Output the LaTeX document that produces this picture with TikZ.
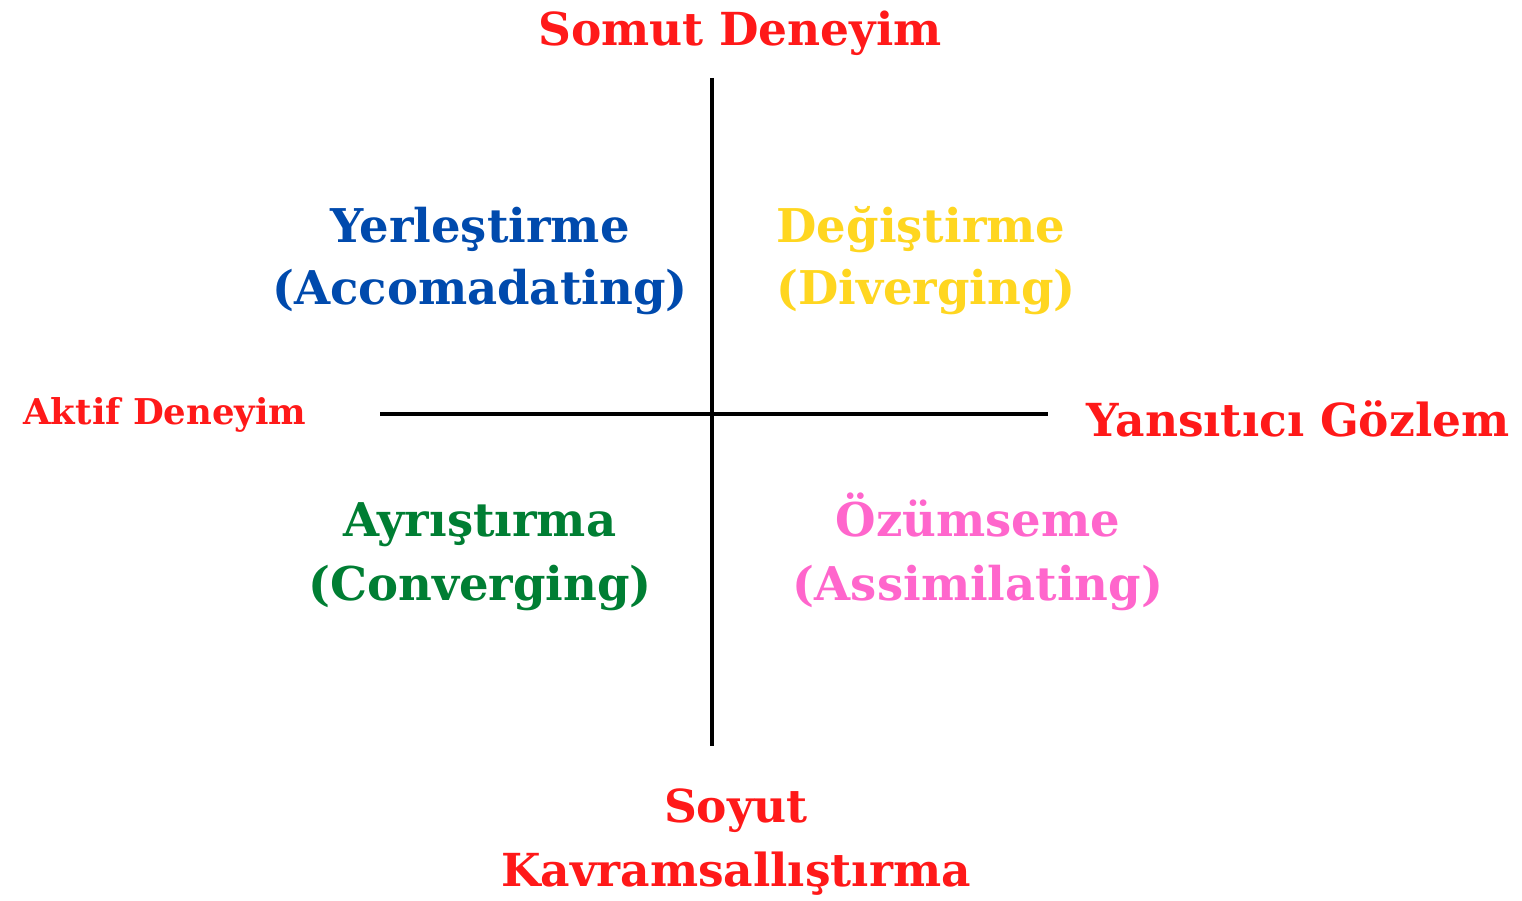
\documentclass[tikz,border=0pt]{standalone}
\usepackage{fontspec}
\setmainfont{DejaVu Serif}[BoldFont={DejaVu Serif Bold}]
\definecolor{labred}{RGB}{255,25,25}
\definecolor{labblue}{RGB}{0,74,173}
\definecolor{labyellow}{RGB}{255,214,32}
\definecolor{labgreen}{RGB}{0,126,51}
\definecolor{labpink}{RGB}{255,102,204}
\tikzset{
  big/.style={anchor=base, inner sep=0pt, font=\bfseries\fontsize{45.5}{54}\selectfont},
  quad/.style={anchor=base, inner sep=0pt, font=\bfseries\fontsize{46.5}{56}\selectfont},
  small/.style={anchor=base, inner sep=0pt, font=\bfseries\fontsize{35.5}{42}\selectfont},
  axis/.style={line width=3.3pt, black}
}
\begin{document}
\begin{tikzpicture}[x=1pt,y=1pt]
\useasboundingbox (0,0) rectangle (1522,901);
\coordinate (top) at (712,823);
\coordinate (bot) at (712,155);
\coordinate (lft) at (380,487);
\coordinate (rgt) at (1048,487);
\draw[axis] (top) -- (bot);
\draw[axis] (lft) -- (rgt);
\node[big, text=labred] (somut) at (740,855) {Somut Deneyim};
\node[small, text=labred] (aktif) at (165,476) {Aktif Deneyim};
\node[big, text=labred] (yans) at (1298,464) {Yansıtıcı Gözlem};
\node[big, text=labred] (soyut1) at (736,78) {Soyut};
\node[big, text=labred] (soyut2) at (736,14) {Kavramsallıştırma};
\node[quad, text=labblue] (acc1) at (480,658) {Yerleştirme};
\node[quad, text=labblue] (acc2) at (480,596) {(Accomadating)};
\node[quad, text=labyellow] (div1) at (921,658) {Değiştirme};
\node[quad, text=labyellow] (div2) at (926,596) {(Diverging)};
\node[quad, text=labgreen] (con1) at (480,364) {Ayrıştırma};
\node[quad, text=labgreen] (con2) at (480,300) {(Converging)};
\node[quad, text=labpink] (ass1) at (978,364) {Özümseme};
\node[quad, text=labpink] (ass2) at (978,300) {(Assimilating)};
\end{tikzpicture}
\end{document}
